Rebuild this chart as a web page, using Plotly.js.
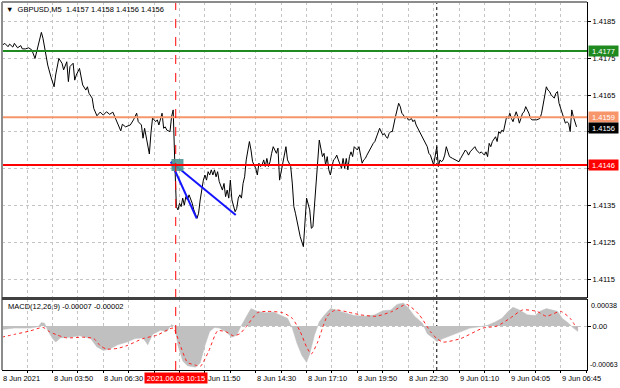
<!DOCTYPE html>
<html>
<head>
<meta charset="utf-8">
<script src="https://cdn.plot.ly/plotly-3.0.1.min.js"></script>
<style>html,body{margin:0;padding:0;background:#fff}#chart{width:620px;height:388px}</style>
</head>
<body>
<div id="chart"></div>
<script>
// ---- price series (M5 bars, close) ----
const priceBars = [0,2,4,5,7,8,10,12,13,15,17,19,21,22,24,25,26,28,29,31,33,34,36,38,39,41,42,43,45,46,47,49,50,51,53,54,55,57,58,60,62,64,66,68,70,71,73,75,76,78,81,83,85,86,88,89,90,92,93,94,95,97,98,99,101,102,103,104,106,107,108,109,110,111,112,113,114,115,116,117,118,120,121,123,124,125,126,127,128,129,130,131,132,133,134,135,136,137,139,140,141,142,143,144,145,147,148,149,150,151,152,153,154,155,156,157,158,160,161,162,163,164,165,166,167,168,169,170,171,173,174,175,176,177,178,179,180,182,183,184,185,187,188,190,191,192,194,195,196,197,198,199,200,202,203,204,205,206,207,208,209,210,211,212,213,214,215,216,217,218,219,220,221,222,224,225,226,227,228,229,230,231,232,234,235,236,237,238,239,240,241,242,243,244,245,246,248,249,250,251,252,253,254,255,256,257,258,259,260,261,262,263,264,265,266,267,268,269,270,272,273,274,275,276,277,278,279,280,281,282,284,286,288,289,290,291,292,293,294,295,296,297,298,299,300,301,302,303,304,305,306,307,308,309,311,312,313,314,315,316,317,318,319,320,321,322,323,324,325,326,327,328,329,330,331,332,333,334,337,339,340,341,342,343,344,345,346,347,348,349,350,351,352,353,354,355,356,357,358,359,360,361,362];
const priceClose = [1.41785,1.41791,1.41782,1.41789,1.41781,1.41791,1.41779,1.41785,1.41776,1.41776,1.41779,1.41773,1.41750,1.41768,1.41809,1.41821,1.41805,1.41759,1.41732,1.41700,1.41673,1.41705,1.41750,1.41737,1.41719,1.41741,1.41687,1.41728,1.41737,1.41691,1.41705,1.41723,1.41700,1.41678,1.41664,1.41673,1.41655,1.41642,1.41614,1.41594,1.41604,1.41596,1.41605,1.41598,1.41604,1.41594,1.41578,1.41553,1.41571,1.41564,1.41569,1.41583,1.41601,1.41578,1.41569,1.41533,1.41560,1.41519,1.41490,1.41547,1.41588,1.41578,1.41583,1.41569,1.41601,1.41560,1.41564,1.41555,1.41551,1.41592,1.41610,1.41469,1.41347,1.41338,1.41356,1.41347,1.41370,1.41351,1.41374,1.41365,1.41379,1.41356,1.41338,1.41315,1.41329,1.41365,1.41392,1.41419,1.41433,1.41419,1.41442,1.41433,1.41447,1.41433,1.41447,1.41428,1.41442,1.41415,1.41392,1.41410,1.41374,1.41392,1.41370,1.41419,1.41365,1.41333,1.41342,1.41370,1.41379,1.41370,1.41410,1.41428,1.41474,1.41506,1.41524,1.41501,1.41469,1.41451,1.41433,1.41465,1.41456,1.41460,1.41474,1.41456,1.41478,1.41456,1.41469,1.41492,1.41510,1.41492,1.41506,1.41419,1.41442,1.41465,1.41492,1.41510,1.41474,1.41456,1.41411,1.41347,1.41329,1.41292,1.41265,1.41238,1.41302,1.41370,1.41338,1.41288,1.41292,1.41356,1.41419,1.41483,1.41528,1.41483,1.41492,1.41460,1.41483,1.41447,1.41433,1.41456,1.41474,1.41478,1.41487,1.41474,1.41460,1.41451,1.41478,1.41451,1.41478,1.41447,1.41483,1.41496,1.41483,1.41510,1.41501,1.41510,1.41487,1.41465,1.41474,1.41478,1.41487,1.41496,1.41501,1.41519,1.41524,1.41537,1.41546,1.41560,1.41551,1.41542,1.41546,1.41537,1.41533,1.41546,1.41551,1.41551,1.41592,1.41610,1.41628,1.41619,1.41601,1.41596,1.41587,1.41592,1.41583,1.41583,1.41587,1.41578,1.41583,1.41569,1.41560,1.41551,1.41542,1.41537,1.41528,1.41515,1.41510,1.41492,1.41487,1.41460,1.41483,1.41510,1.41456,1.41474,1.41469,1.41474,1.41487,1.41510,1.41496,1.41483,1.41478,1.41474,1.41469,1.41478,1.41487,1.41496,1.41501,1.41496,1.41487,1.41496,1.41501,1.41506,1.41510,1.41501,1.41496,1.41492,1.41496,1.41492,1.41487,1.41496,1.41483,1.41519,1.41510,1.41524,1.41537,1.41524,1.41551,1.41546,1.41555,1.41551,1.41569,1.41592,1.41587,1.41601,1.41587,1.41578,1.41592,1.41605,1.41592,1.41574,1.41587,1.41601,1.41605,1.41619,1.41610,1.41601,1.41587,1.41583,1.41583,1.41587,1.41601,1.41628,1.41655,1.41673,1.41664,1.41660,1.41651,1.41646,1.41642,1.41655,1.41660,1.41628,1.41614,1.41601,1.41592,1.41574,1.41578,1.41574,1.41551,1.41610,1.41592,1.41578,1.41564];

// ---- MACD(12,26,9) ----
const histBars = [0,8,18,23,25,27,29,32,34,37,43,49,56,60,64,68,73,79,84,89,92,95,100,104,107,109,111,114,117,122,125,128,131,134,137,141,145,148,151,154,157,161,166,171,175,180,183,186,189,192,194,197,200,203,207,211,216,222,229,235,240,245,249,253,256,260,265,268,272,274,278,284,289,295,301,306,311,315,319,322,326,331,336,339,343,347,350,353,357,360,363];
const histValues = [-0.00005,-0.00003,-0.00003,-0.00001,0.00005,0.00004,-0.00006,-0.00018,-0.00023,-0.00017,-0.00016,-0.00014,-0.00018,-0.00030,-0.00035,-0.00033,-0.00027,-0.00023,-0.00018,-0.00017,-0.00027,-0.00012,-0.00006,-0.00008,0.00002,-0.00001,-0.00028,-0.00050,-0.00057,-0.00059,-0.00053,-0.00028,-0.00008,-0.00002,-0.00003,-0.00008,-0.00016,-0.00013,0.00001,0.00014,0.00025,0.00021,0.00019,0.00020,0.00016,0.00011,-0.00003,-0.00025,-0.00042,-0.00052,-0.00040,-0.00013,0.00006,0.00015,0.00025,0.00023,0.00019,0.00015,0.00014,0.00016,0.00022,0.00023,0.00031,0.00033,0.00026,0.00014,0.00004,-0.00011,-0.00018,-0.00022,-0.00018,-0.00013,-0.00008,-0.00003,-0.00001,0.00001,0.00006,0.00011,0.00021,0.00027,0.00023,0.00016,0.00015,0.00021,0.00025,0.00023,0.00021,0.00011,0.00004,-0.00003,-0.00008];
const signalBars = [0,8,18,26,30,35,41,51,58,62,66,73,79,89,98,108,112,117,122,125,130,136,141,146,150,154,161,167,177,183,188,192,195,199,202,205,210,218,226,236,246,255,263,270,274,278,289,303,312,320,328,337,343,352,358,362];
const signalValues = [-0.00016,-0.00012,-0.00007,-0.00002,-0.00008,-0.00013,-0.00017,-0.00016,-0.00018,-0.00028,-0.00033,-0.00032,-0.00028,-0.00018,-0.00013,-0.00003,-0.00025,-0.00052,-0.00056,-0.00058,-0.00038,-0.00007,-0.00008,-0.00014,-0.00011,-0.00001,0.00019,0.00021,0.00019,0.00011,-0.00008,-0.00030,-0.00040,-0.00023,-0.00003,0.00014,0.00023,0.00020,0.00016,0.00014,0.00021,0.00031,0.00016,-0.00008,-0.00018,-0.00023,-0.00018,-0.00003,0.00000,0.00011,0.00023,0.00021,0.00014,0.00021,0.00011,-0.00003];

// ---- levels, drawings, labels ----
const levelPrices = [1.4177, 1.4159, 1.4146];
const levelLabels = ["1.4177", "1.4159", "1.4146"];
const lastPrice = 1.4156;
const lastPriceLabel = "1.4156";
const priceTickVals = [1.4115, 1.4125, 1.4135, 1.4145, 1.4155, 1.4165, 1.4175, 1.4185];
const priceTickText = ["1.4115", "1.4125", "1.4135", "", "", "1.4165", "1.4175", "1.4185"];
const trendA_x = [106.6, 122.8], trendA_y = [1.41469, 1.41315];
const trendB_x = [106.6, 147.4], trendB_y = [1.41469, 1.41324];
const entryBar = [110.7], entryPrice = [1.4146];
const crossBar = 109.6, crossLabel = "2021.06.08 10:15";
const daySepBar = 274;
const timeTickBars = [0.3,32,64,129.5,160,192,224,256,288,320,352];
const timeTickLabels = ["8 Jun 2021","8 Jun 03:50","8 Jun 06:30","Jun 11:50","8 Jun 14:30","8 Jun 17:10","8 Jun 19:50","8 Jun 22:30","9 Jun 01:10","9 Jun 04:05","9 Jun 06:45"];
const headerText = "▼  GBPUSD,M5  1.4157 1.4158 1.4156 1.4156";
const macdHeader = "MACD(12,26,9) -0.00007 -0.00002";
const macdScaleTop = 0.00038, macdScaleBottom = -0.00063;

const FONT = "Liberation Sans, Arial, sans-serif";
const levelColors = ["#1f8a1f", "#f7956b", "#ff0000"];

const traces = [
  {x: priceBars, y: priceClose, type: "scatter", mode: "lines", line: {color: "#000", width: 1}, xaxis: "x", yaxis: "y", hoverinfo: "skip"},
  {x: trendA_x, y: trendA_y, type: "scatter", mode: "lines", line: {color: "#1414ff", width: 2}, xaxis: "x", yaxis: "y"},
  {x: trendB_x, y: trendB_y, type: "scatter", mode: "lines", line: {color: "#1414ff", width: 2}, xaxis: "x", yaxis: "y"},
  {x: entryBar, y: entryPrice, type: "scatter", mode: "markers", marker: {symbol: "square", size: 12, color: "rgba(80,150,148,0.9)"}, xaxis: "x", yaxis: "y"},
  {x: histBars, y: histValues, type: "scatter", mode: "lines", fill: "tozeroy", fillcolor: "#c0c0c0", line: {color: "#c0c0c0", width: 0.5}, xaxis: "x2", yaxis: "y2"},
  {x: signalBars, y: signalValues, type: "scatter", mode: "lines", line: {color: "#ff2020", width: 1, dash: "dot", shape: "spline", smoothing: 0.6}, xaxis: "x2", yaxis: "y2"}
];

const shapes = [];
levelPrices.forEach((p, i) => shapes.push({type: "line", xref: "paper", x0: 0, x1: 1, yref: "y", y0: p, y1: p, line: {color: levelColors[i], width: 2}, layer: "above"}));
shapes.push({type: "line", xref: "x", x0: crossBar, x1: crossBar, yref: "paper", y0: 0, y1: 1, line: {color: "#ff0000", width: 1, dash: "dash"}, layer: "above"});
shapes.push({type: "line", xref: "x", x0: daySepBar, x1: daySepBar, yref: "paper", y0: 0, y1: 1, line: {color: "#000", width: 1, dash: "dot"}, layer: "below"});
shapes.push({type: "line", xref: "paper", x0: 0, x1: 1, yref: "paper", y0: 1, y1: 1, line: {color: "#8c8c8c", width: 2}});
shapes.push({type: "line", xref: "paper", x0: 0, x1: 0, yref: "paper", y0: 0, y1: 1, line: {color: "#8c8c8c", width: 2}});
shapes.push({type: "line", xref: "paper", x0: 0, x1: 1, yref: "paper", y0: 0.1943, y1: 0.1943, line: {color: "#404040", width: 3}});

const annotations = [];
timeTickBars.forEach((b, i) => annotations.push({xref: "x", x: b, yref: "paper", y: 0, yanchor: "top", xanchor: "left", yshift: -2, xshift: -1, text: timeTickLabels[i], showarrow: false, font: {family: FONT, size: 7.5, color: "#000"}}));
annotations.push({xref: "x", x: crossBar, yref: "paper", y: 0, yanchor: "top", xanchor: "center", yshift: -2, text: crossLabel, showarrow: false, bgcolor: "#ff0000", width: 62, height: 10, borderpad: 0, font: {family: FONT, size: 7.5, color: "#fff"}});
levelPrices.forEach((p, i) => annotations.push({xref: "paper", x: 1, xanchor: "left", xshift: 1, yref: "y", y: p, yanchor: "middle", text: levelLabels[i], showarrow: false, bgcolor: levelColors[i], width: 29, height: 10, borderpad: 0, font: {family: FONT, size: 7.5, color: "#fff"}}));
annotations.push({xref: "paper", x: 1, xanchor: "left", xshift: 1, yref: "y", y: lastPrice, yanchor: "middle", text: lastPriceLabel, showarrow: false, bgcolor: "#000", width: 29, height: 10, borderpad: 0, font: {family: FONT, size: 7.5, color: "#fff"}});
annotations.push({xref: "paper", x: 0, xanchor: "left", xshift: 2, yref: "paper", y: 1, yanchor: "top", yshift: -1, text: headerText, showarrow: false, font: {family: FONT, size: 7.5, color: "#000"}});
annotations.push({xref: "paper", x: 0, xanchor: "left", xshift: 4, yref: "paper", y: 0.1916, yanchor: "top", yshift: -1, text: macdHeader, showarrow: false, font: {family: FONT, size: 7.5, color: "#000"}});
annotations.push({xref: "paper", x: 1, xanchor: "left", xshift: 2, yref: "y2", y: macdScaleTop, yanchor: "top", text: "0.00038", showarrow: false, font: {family: FONT, size: 7.2, color: "#000"}});
annotations.push({xref: "paper", x: 1, xanchor: "left", xshift: 1, yref: "y2", y: macdScaleBottom, yanchor: "bottom", text: "-0.00063", showarrow: false, font: {family: FONT, size: 7, color: "#000"}});

const grid = {showgrid: true, gridcolor: "#c4c4c4", griddash: "dot", gridwidth: 1};
const layout = {
  width: 620, height: 388,
  margin: {l: 2, r: 33, t: 2, b: 18},
  paper_bgcolor: "#fff", plot_bgcolor: "#fff",
  showlegend: false,
  font: {family: FONT, size: 7.5, color: "#000"},
  xaxis: Object.assign({domain: [0, 1], anchor: "y", range: [0.2, 368.6], tick0: 0, dtick: 16, showticklabels: false, ticks: "", zeroline: false, fixedrange: true}, grid),
  yaxis: Object.assign({domain: [0.197, 1], anchor: "x", side: "right", range: [1.410997, 1.419036], tickvals: priceTickVals, ticktext: priceTickText, ticks: "outside", ticklen: 3, tickcolor: "#000", showline: true, linecolor: "#000", linewidth: 1, zeroline: false, tickfont: {family: FONT, size: 7.5, color: "#000"}}, grid),
  xaxis2: Object.assign({domain: [0, 1], anchor: "y2", matches: "x", range: [0.2, 368.6], tick0: 0, dtick: 16, showticklabels: false, ticks: "outside", ticklen: 2, tickcolor: "#000", showline: true, linecolor: "#000", linewidth: 1, zeroline: false}, grid),
  yaxis2: Object.assign({domain: [0, 0.1916], anchor: "x2", side: "right", range: [macdScaleBottom, macdScaleTop], tickvals: [0], ticktext: ["0.00"], ticks: "outside", ticklen: 3, tickcolor: "#000", showline: true, linecolor: "#000", linewidth: 1, zeroline: false, tickfont: {family: FONT, size: 7.5, color: "#000"}}, grid),
  shapes: shapes,
  annotations: annotations
};
Plotly.newPlot("chart", traces, layout, {staticPlot: true, displayModeBar: false});
</script>
</body>
</html>
